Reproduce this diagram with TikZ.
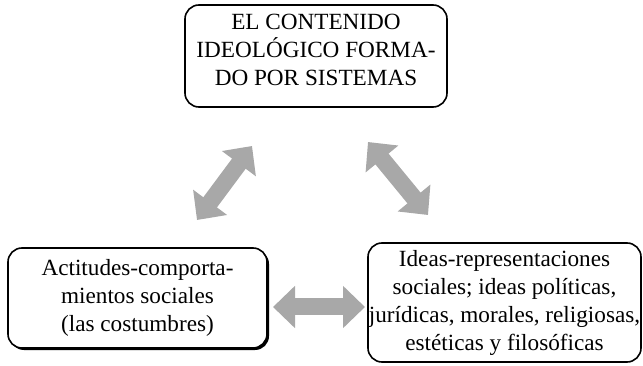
\documentclass[tikz,border=0pt]{standalone}
\usepackage{fontspec}
\setmainfont{Liberation Serif}
\usetikzlibrary{arrows.meta,shadows}
\definecolor{grisflecha}{RGB}{168,168,168}
\begin{document}
\begin{tikzpicture}[x=1pt, y=-1pt,
        caja/.style={draw, line width=1.6pt, rounded corners=14pt, align=center, inner sep=0pt,
            font=\fontsize{23.2}{28}\selectfont},
        flecha/.style={grisflecha, line width=17pt,
            {Triangle[length=22pt,width=41pt]}-{Triangle[length=22pt,width=41pt]}}]
    \useasboundingbox (0,0) rectangle (643,366);
    \node[caja, minimum width=262pt, minimum height=102pt, text depth=12pt] (contenido) at (316,56)
        {EL CONTENIDO\\IDEOLÓGICO FORMA-\\DO POR SISTEMAS};
    \node[caja, minimum width=259pt, minimum height=100pt, fill=white,
        drop shadow={shadow xshift=2pt, shadow yshift=-2pt, fill=black, opacity=1}] (actitudes) at (137.5,298)
        {Actitudes-comporta-\\mientos sociales\\(las costumbres)};
    \node[caja, minimum width=273pt, minimum height=119pt] (ideas) at (504.5,302.5)
        {Ideas-representaciones\\sociales; ideas políticas,\\jurídicas, morales, religiosas,\\estéticas y filosóficas};
    \coordinate (izqA) at (197,220);
    \coordinate (izqB) at (252,146);
    \coordinate (derA) at (368,142);
    \coordinate (derB) at (428,215);
    \coordinate (horA) at (273,307);
    \coordinate (horB) at (365,307);
    \draw[flecha] (izqA) -- (izqB);
    \draw[flecha] (derA) -- (derB);
    \draw[flecha] (horA) -- (horB);
\end{tikzpicture}
\end{document}
